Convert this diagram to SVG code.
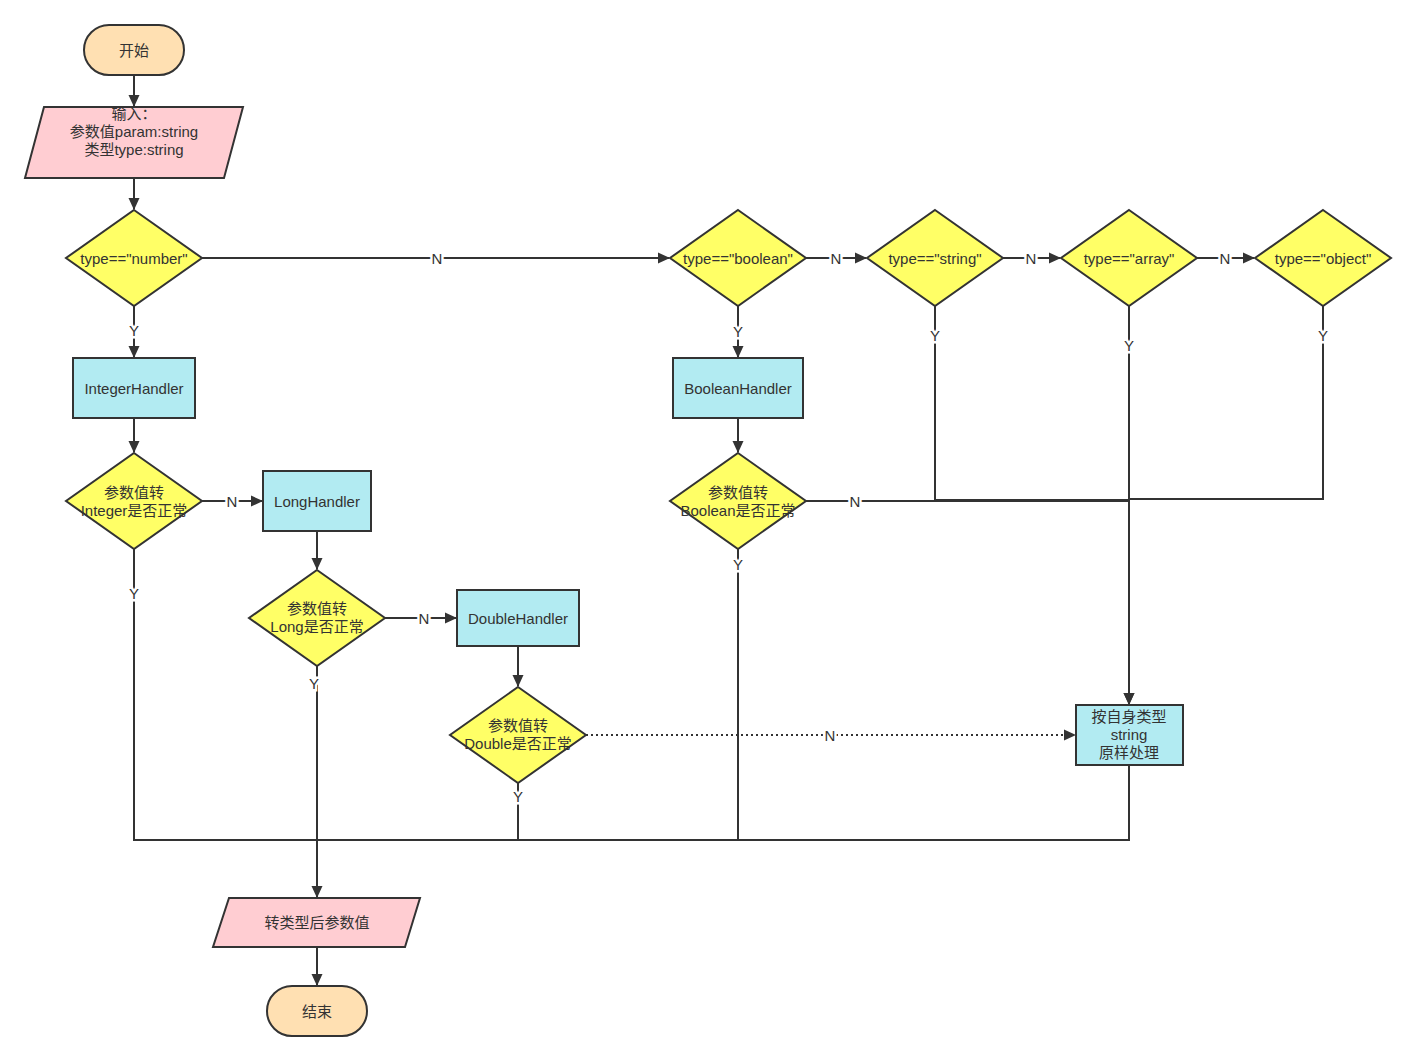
<svg xmlns="http://www.w3.org/2000/svg" width="1416" height="1061" viewBox="0 0 1416 1061">
<style>
text{font-family:"Liberation Sans","Noto Sans CJK SC",sans-serif;font-size:15px;fill:#333;text-anchor:middle;dominant-baseline:central}
.term{fill:#ffe0b2;stroke:#333;stroke-width:2}
.io{fill:#ffcdd2;stroke:#333;stroke-width:2}
.dec{fill:#ffff66;stroke:#333;stroke-width:2}
.proc{fill:#b2ebf2;stroke:#333;stroke-width:2}
.ln{fill:none;stroke:#333;stroke-width:2}
.arr{marker-end:url(#ah)}
.dot{stroke-dasharray:2 3}
.lbl{stroke:#fff;stroke-width:5;paint-order:stroke}
</style>
<defs>
<marker id="ah" markerWidth="12" markerHeight="12" refX="11" refY="6" orient="auto" markerUnits="userSpaceOnUse">
<path d="M0,0.5 L12,6 L0,11.5 Z" fill="#333"/>
</marker>
</defs>
<rect width="1416" height="1061" fill="#fff"/>
<g id="connectors">
<path class="ln arr" d="M134,75 V106"/>
<path class="ln arr" d="M134,178 V209"/>
<path class="ln arr" d="M202,258 H669"/>
<path class="ln arr" d="M134,306 V357"/>
<path class="ln arr" d="M134,418 V452"/>
<path class="ln arr" d="M202,501 H262"/>
<path class="ln" d="M134,549 V840 H317"/>
<path class="ln arr" d="M317,531 V569"/>
<path class="ln arr" d="M385,618 H456"/>
<path class="ln arr" d="M317,666 V897"/>
<path class="ln arr" d="M518,646 V686"/>
<path class="ln arr dot" d="M586,735 H1075"/>
<path class="ln" d="M518,783 V840 H317"/>
<path class="ln arr" d="M738,306 V357"/>
<path class="ln arr" d="M738,418 V452"/>
<path class="ln arr" d="M806,501 H1129 V704"/>
<path class="ln" d="M738,549 V840 H317"/>
<path class="ln arr" d="M806,258 H866"/>
<path class="ln arr" d="M1003,258 H1060"/>
<path class="ln arr" d="M1197,258 H1254"/>
<path class="ln" d="M935,306 V500 H1129"/>
<path class="ln arr" d="M1129,306 V704"/>
<path class="ln" d="M1323,306 V499 H1129"/>
<path class="ln" d="M1129,765 V840 H317"/>
<path class="ln arr" d="M317,947 V985"/>
<text class="lbl" x="437" y="258">N</text>
<text class="lbl" x="134" y="330">Y</text>
<text class="lbl" x="232" y="501">N</text>
<text class="lbl" x="134" y="593">Y</text>
<text class="lbl" x="314" y="683">Y</text>
<text class="lbl" x="424" y="618">N</text>
<text class="lbl" x="830" y="735">N</text>
<text class="lbl" x="518" y="796">Y</text>
<text class="lbl" x="738" y="331">Y</text>
<text class="lbl" x="855" y="501">N</text>
<text class="lbl" x="738" y="564">Y</text>
<text class="lbl" x="836" y="258">N</text>
<text class="lbl" x="1031" y="258">N</text>
<text class="lbl" x="1225" y="258">N</text>
<text class="lbl" x="935" y="335">Y</text>
<text class="lbl" x="1129" y="345">Y</text>
<text class="lbl" x="1323" y="335">Y</text>
</g>
<g id="start"><rect class="term" x="84" y="25" width="100" height="50" rx="25"/><text x="134" y="50">开始</text></g>
<g id="input"><polygon class="io" points="44,107 243,107 224,178 25,178"/><text x="134" y="113">输入：</text><text x="134" y="131">参数值param:string</text><text x="134" y="149">类型type:string</text></g>
<g id="d-number"><polygon class="dec" points="134,210 202,258 134,306 66,258"/><text x="134" y="258">type=="number"</text></g>
<g id="integer-handler"><rect class="proc" x="73" y="358" width="122" height="60"/><text x="134" y="388">IntegerHandler</text></g>
<g id="d-integer"><polygon class="dec" points="134,453 202,501 134,549 66,501"/><text x="134" y="492">参数值转</text><text x="134" y="510">Integer是否正常</text></g>
<g id="long-handler"><rect class="proc" x="263" y="471" width="108" height="60"/><text x="317" y="501">LongHandler</text></g>
<g id="d-long"><polygon class="dec" points="317,570 385,618 317,666 249,618"/><text x="317" y="608">参数值转</text><text x="317" y="626">Long是否正常</text></g>
<g id="double-handler"><rect class="proc" x="457" y="590" width="122" height="56"/><text x="518" y="618">DoubleHandler</text></g>
<g id="d-double"><polygon class="dec" points="518,687 586,735 518,783 450,735"/><text x="518" y="725">参数值转</text><text x="518" y="743">Double是否正常</text></g>
<g id="d-boolean"><polygon class="dec" points="738,210 806,258 738,306 670,258"/><text x="738" y="258">type=="boolean"</text></g>
<g id="boolean-handler"><rect class="proc" x="673" y="358" width="130" height="60"/><text x="738" y="388">BooleanHandler</text></g>
<g id="d-boolean-check"><polygon class="dec" points="738,453 806,501 738,549 670,501"/><text x="738" y="492">参数值转</text><text x="738" y="510">Boolean是否正常</text></g>
<g id="d-string"><polygon class="dec" points="935,210 1003,258 935,306 867,258"/><text x="935" y="258">type=="string"</text></g>
<g id="d-array"><polygon class="dec" points="1129,210 1197,258 1129,306 1061,258"/><text x="1129" y="258">type=="array"</text></g>
<g id="d-object"><polygon class="dec" points="1323,210 1391,258 1323,306 1255,258"/><text x="1323" y="258">type=="object"</text></g>
<g id="string-box"><rect class="proc" x="1076" y="705" width="107" height="60"/><text x="1129" y="716">按自身类型</text><text x="1129" y="734">string</text><text x="1129" y="752">原样处理</text></g>
<g id="output"><polygon class="io" points="229,898 420,898 405,947 213,947"/><text x="317" y="922">转类型后参数值</text></g>
<g id="end"><rect class="term" x="267" y="986" width="100" height="50" rx="25"/><text x="317" y="1011">结束</text></g>
</svg>
